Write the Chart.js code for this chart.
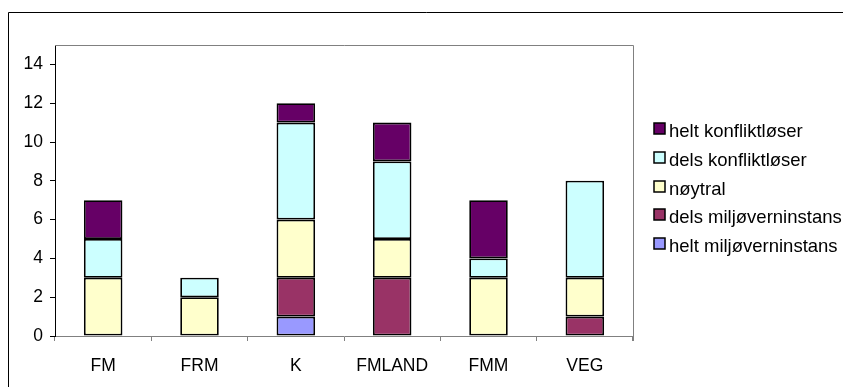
<!DOCTYPE html>
<html>
<head>
<meta charset="utf-8">
<script src="https://cdn.jsdelivr.net/npm/chart.js@4.4.1/dist/chart.umd.min.js"></script>
<style>
  html, body { margin: 0; padding: 0; background: #fff; }
  #wrap { position: relative; width: 843px; height: 387px; }
</style>
</head>
<body>
<div id="wrap"><canvas id="c" width="843" height="387"></canvas></div>
<script>
// Categories and stacked counts (bottom segment first)
const categories = ['FM', 'FRM', 'K', 'FMLAND', 'FMM', 'VEG'];
const heltMiljo   = [0, 0, 1, 0, 0, 0];
const delsMiljo   = [0, 0, 2, 3, 0, 1];
const noytral     = [3, 2, 3, 2, 3, 2];
const delsKonflikt = [2, 1, 5, 4, 1, 5];
const heltKonflikt = [2, 0, 1, 2, 3, 0];
const yTicks = [0, 2, 4, 6, 8, 10, 12, 14];

const FONT = "'Liberation Sans', Arial, sans-serif";
const FS = 17.5;
const LEGEND_FS = 18.5;

const series = [
  { label: 'helt miljøverninstans', data: heltMiljo, color: '#9999FF' },
  { label: 'dels miljøverninstans', data: delsMiljo, color: '#993366' },
  { label: 'nøytral', data: noytral, color: '#FFFFCC' },
  { label: 'dels konfliktløser', data: delsKonflikt, color: '#CCFFFF' },
  { label: 'helt konfliktløser', data: heltKonflikt, color: '#660066' }
];

// Outer frame, plot-area border and the legend list
const framePlugin = {
  id: 'frame',
  afterDraw(chart) {
    const ctx = chart.ctx;
    const a = chart.chartArea;
    ctx.save();
    // outer frame
    ctx.strokeStyle = '#000';
    ctx.lineWidth = 1;
    ctx.beginPath();
    ctx.moveTo(8.5, 400);
    ctx.lineTo(8.5, 12.5);
    ctx.lineTo(850, 12.5);
    ctx.stroke();
    // plot area top and right edges
    ctx.strokeStyle = '#808080';
    ctx.beginPath();
    ctx.moveTo(a.left, Math.round(a.top) + 0.5);
    ctx.lineTo(Math.round(a.right) + 0.5, Math.round(a.top) + 0.5);
    ctx.lineTo(Math.round(a.right) + 0.5, a.bottom + 5);
    ctx.stroke();
    // legend, top entry is the top segment
    ctx.font = LEGEND_FS + 'px ' + FONT;
    ctx.textBaseline = 'middle';
    ctx.textAlign = 'left';
    const items = series.slice().reverse();
    items.forEach((s, i) => {
      const y = 132 + i * 28.8;
      const top = Math.round(y - 9);
      ctx.fillStyle = s.color;
      ctx.fillRect(654, top, 11, 11);
      ctx.strokeStyle = '#000';
      ctx.lineWidth = 1.5;
      ctx.strokeRect(654, top, 11, 11);
      ctx.fillStyle = '#000';
      ctx.fillText(s.label, 669, y);
    });
    ctx.restore();
  }
};

new Chart(document.getElementById('c'), {
  type: 'bar',
  data: {
    labels: categories,
    datasets: series.map(s => ({
      label: s.label,
      data: s.data,
      backgroundColor: s.color,
      borderColor: '#000',
      borderWidth: 1.8,
      borderSkipped: false,
      categoryPercentage: 1,
      barPercentage: 0.4
    }))
  },
  options: {
    responsive: false,
    animation: false,
    layout: { padding: { left: 0, top: 45, right: 210, bottom: 0 } },
    plugins: { legend: { display: false }, tooltip: { enabled: false } },
    scales: {
      x: {
        stacked: true,
        offset: true,
        grid: {
          offset: true,
          drawOnChartArea: false,
          drawTicks: true,
          tickLength: 5,
          color: '#808080'
        },
        border: { color: '#808080', width: 1 },
        ticks: { color: '#000', font: { family: FONT, size: FS }, padding: 15 },
        afterFit(s) { s.height = 51; }
      },
      y: {
        stacked: true,
        min: 0,
        max: 15,
        afterBuildTicks(s) { s.ticks = yTicks.map(v => ({ value: v })); },
        grid: {
          drawOnChartArea: false,
          drawTicks: true,
          tickLength: 5,
          color: '#000'
        },
        border: { color: '#000', width: 1 },
        ticks: { color: '#000', font: { family: FONT, size: FS }, padding: 7 },
        afterFit(s) { s.width = 55; }
      }
    }
  },
  plugins: [framePlugin]
});
</script>
</body>
</html>
